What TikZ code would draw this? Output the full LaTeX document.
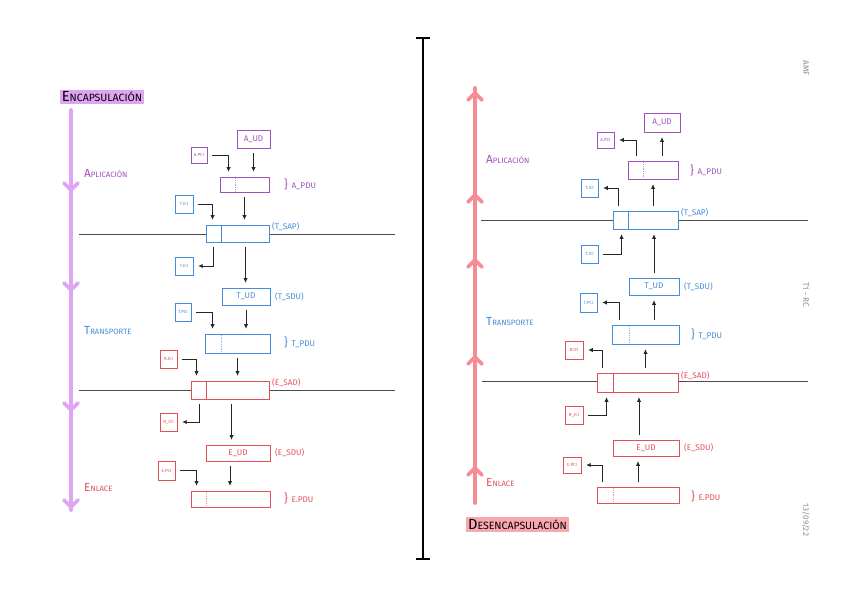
\documentclass[tikz,border=0pt]{standalone}
\usepackage{fontspec}
\setmainfont{Fira Sans}
\usetikzlibrary{arrows.meta,calc}

\definecolor{aplc}{RGB}{160,80,190}
\definecolor{trnc}{RGB}{70,140,220}
\definecolor{enlc}{RGB}{225,80,90}
\definecolor{encc}{RGB}{222,165,245}
\definecolor{desc}{RGB}{246,140,148}
\newcommand\upx{0.3mm}
\newcommand\lyr[2]{#1{\fontsize{6.6}{6.8}\selectfont #2}}
\newcommand\brc{{\fontsize{10}{10}\selectfont\}}\hspace{3pt}}

\begin{document}
\begin{tikzpicture}[x=0.3mm, y=-0.3mm,
                    pdubox/.style={draw, fill=white, line width=0.8pt, inner sep=0pt,
                                   font=\fontsize{7}{7}\selectfont},
                    ctlbox/.style={draw, fill=white, line width=0.7pt, inner sep=0pt,
                                   font=\fontsize{3.8}{4}\selectfont},
                    wh/.style 2 args={minimum width=#1*\upx, minimum height=#2*\upx},
                    apl/.style={draw=aplc, text=aplc}, trn/.style={draw=trnc, text=trnc},
                    enl/.style={draw=enlc, text=enlc},
                    arr/.style={-{Latex[length=1.4mm,width=1.3mm]}, line width=0.75pt, black!85,
                                shorten <=1.3mm, shorten >=1.4mm},
                    sidelbl/.style={anchor=west, inner sep=0pt, font=\fontsize{7}{7}\selectfont},
                    lyrlbl/.style={anchor=west, inner sep=0pt, font=\fontsize{10}{10}\selectfont},
                    boundary/.style={draw=black!70, line width=0.8pt},
                    flow/.style={line width=3.2pt, line cap=round, line join=round},
                    %% margin notes
                    note/.style={rotate=-90, text=black!45, font=\fontsize{7}{7}\selectfont}
                    ]
\useasboundingbox (0,0) rectangle (848,599);

% layer boundaries
\draw[boundary] (79,234) -- (395,234);
\draw[boundary] (79,390) -- (395,390);
\draw[boundary] (481,220) -- (808,220);
\draw[boundary] (482,381) -- (808,381);

% separator
\draw[line width=1.6pt] (423,38) -- (423,559);
\draw[line width=1.6pt] (416,38) -- (430,38);
\draw[line width=1.6pt] (416,559) -- (430,559);

%% ---------------- encapsulacion ----------------
\node[fill=encc, inner sep=1.8pt, font=\fontsize{12.5}{12.5}\selectfont] (enc) at (102,97)
      {E{\fontsize{9}{9}\selectfont NCAPSULACIÓN}};
\draw[flow, encc] (71,110) -- (71,510);
\foreach \y in {190,290,410,507}
  \draw[flow, encc] (64,\y-7) -- (71,\y) -- (78,\y-7);

\node[lyrlbl, aplc] (apl) at (84,174) {\lyr{A}{PLICACIÓN}};
\node[lyrlbl, trnc] (trn) at (84,331) {\lyr{T}{RANSPORTE}};
\node[lyrlbl, enlc] (enl) at (84,488) {\lyr{E}{NLACE}};

\node[pdubox, apl, wh={33}{18}] (aud)  at (253.5,139) {A\_UD};
\node[ctlbox, apl, wh={16}{16}] (apci) at (199,155) {A.PCI};
\node[pdubox, apl, wh={49}{15}] (apdu) at (244.5,184.5) {};
\node[ctlbox, trn, wh={18}{18}] (tici1) at (184,204) {T.ICI};
\node[pdubox, trn, wh={63}{17}] (tsap) at (237.5,233.5) {};
\node[ctlbox, trn, wh={18}{18}] (tici2) at (184,266) {T.ICI};
\node[pdubox, trn, wh={48}{17}] (tud)  at (246,296.5) {T\_UD};
\node[ctlbox, trn, wh={16}{18}] (tpci) at (183,312) {T.PCI};
\node[pdubox, trn, wh={65}{19}] (tpdu) at (237.5,343.5) {};
\node[ctlbox, enl, wh={17}{18}] (rici1) at (168.5,359) {R.ICI};
\node[pdubox, enl, wh={78}{18}] (esap) at (230,390) {};
\node[ctlbox, enl, wh={17}{18}] (rici2) at (168.5,422) {R\_ICI};
\node[pdubox, enl, wh={64}{16}] (eud)  at (238,453) {E\_UD};
\node[ctlbox, enl, wh={17}{19}] (epci) at (166.5,470.5) {E.PCI};
\node[pdubox, enl, wh={79}{16}] (epdu) at (230.5,499) {};

\draw[aplc!60, densely dotted, line width=0.5pt, shorten <=1.5pt, shorten >=1.5pt]
  ([xshift=16*\upx]apdu.north west) -- ([xshift=16*\upx]apdu.south west);
\draw[trnc, line width=0.8pt] ([xshift=16*\upx]tsap.north west) -- ([xshift=16*\upx]tsap.south west);
\draw[trnc!60, densely dotted, line width=0.5pt, shorten <=1.5pt, shorten >=1.5pt]
  ([xshift=17*\upx]tpdu.north west) -- ([xshift=17*\upx]tpdu.south west);
\draw[enlc, line width=0.8pt] ([xshift=16*\upx]esap.north west) -- ([xshift=16*\upx]esap.south west);
\draw[enlc!60, densely dotted, line width=0.5pt, shorten <=1.5pt, shorten >=1.5pt]
  ([xshift=16*\upx]epdu.north west) -- ([xshift=16*\upx]epdu.south west);

\node[sidelbl, aplc] (apdul) at (284,184) {\brc A\_PDU};
\node[sidelbl, trnc] (tsapl) at (272,227) {(T\_SAP)};
\node[sidelbl, trnc] (tsdul) at (275,297) {(T\_SDU)};
\node[sidelbl, trnc] (tpdul) at (284,342) {\brc T\_PDU};
\node[sidelbl, enlc] (esapl) at (272,383) {(E\_SAD)};
\node[sidelbl, enlc] (esdul) at (275,453) {(E\_SDU)};
\node[sidelbl, enlc] (epdul) at (284,498) {\brc E.PDU};

\draw[arr] (apci.east) -| ([xshift=9*\upx]apdu.north west);
\draw[arr] (aud.south) -- (aud.south |- apdu.north);
\draw[arr] (apdu.south) -- (apdu.south |- tsap.north);
\draw[arr] (tici1.east) -| ([xshift=7*\upx]tsap.north west);
\draw[arr] ([xshift=8*\upx]tsap.south west) |- (tici2.east);
\draw[arr] ([xshift=40*\upx]tsap.south west) -- ([xshift=40*\upx]tsap.south west |- tud.north);
\draw[arr] (tpci.east) -| ([xshift=8*\upx]tpdu.north west);
\draw[arr] (tud.south) -- (tud.south |- tpdu.north);
\draw[arr] (tpdu.south) -- (tpdu.south |- esap.north);
\draw[arr] (rici1.east) -| ([xshift=6*\upx]esap.north west);
\draw[arr] ([xshift=9*\upx]esap.south west) |- (rici2.east);
\draw[arr] ([xshift=41*\upx]esap.south west) -- ([xshift=41*\upx]esap.south west |- eud.north);
\draw[arr] (epci.east) -| ([xshift=6*\upx]epdu.north west);
\draw[arr] ([xshift=-8*\upx]eud.south) -- ([xshift=-8*\upx]eud.south |- epdu.north);

%% ---------------- desencapsulacion ----------------
\node[fill=desc!75, inner sep=1.8pt, font=\fontsize{12.5}{12.5}\selectfont] (des) at (517.5,524.5)
      {D{\fontsize{9}{9}\selectfont ESENCAPSULACIÓN}};
\draw[flow, desc] (475,503) -- (475,88);
\foreach \y in {93,195,260,357,468}
  \draw[flow, desc] (468,\y+7) -- (475,\y) -- (482,\y+7);

\node[lyrlbl, aplc] (rapl) at (486,160) {\lyr{A}{PLICACIÓN}};
\node[lyrlbl, trnc] (rtrn) at (486,322) {\lyr{T}{RANSPORTE}};
\node[lyrlbl, enlc] (renl) at (486,483) {\lyr{E}{NLACE}};

\node[pdubox, apl, wh={36}{19}] (raud)  at (662,122.5) {A\_UD};
\node[ctlbox, apl, wh={17}{16}] (rapci) at (605.5,140) {A.PCI};
\node[pdubox, apl, wh={50}{18}] (rapdu) at (653,170) {};
\node[ctlbox, trn, wh={17}{18}] (rtici1) at (589.5,188) {T.ICI};
\node[pdubox, trn, wh={65}{18}] (rtsap) at (645.5,220) {};
\node[ctlbox, trn, wh={17}{18}] (rtici2) at (589.5,254) {T.ICI};
\node[pdubox, trn, wh={50}{17}] (rtud)  at (654,286.5) {T\_UD};
\node[ctlbox, trn, wh={17}{19}] (rtpci) at (588.5,302.5) {T.PCI};
\node[pdubox, trn, wh={67}{19}] (rtpdu) at (645.5,334.5) {};
\node[ctlbox, enl, wh={18}{18}] (rrici1) at (574,350) {R.ICI};
\node[pdubox, enl, wh={81}{19}] (resap) at (637.5,382.5) {};
\node[ctlbox, enl, wh={18}{18}] (rrici2) at (574,415) {R\_ICI};
\node[pdubox, enl, wh={66}{16}] (reud)  at (646,448) {E\_UD};
\node[ctlbox, enl, wh={18}{16}] (repci) at (572,465) {E.PCI};
\node[pdubox, enl, wh={82}{16}] (repdu) at (638,495) {};

\draw[aplc!60, densely dotted, line width=0.5pt, shorten <=1.5pt, shorten >=1.5pt]
  ([xshift=16*\upx]rapdu.north west) -- ([xshift=16*\upx]rapdu.south west);
\draw[trnc, line width=0.8pt] ([xshift=16*\upx]rtsap.north west) -- ([xshift=16*\upx]rtsap.south west);
\draw[trnc!60, densely dotted, line width=0.5pt, shorten <=1.5pt, shorten >=1.5pt]
  ([xshift=18*\upx]rtpdu.north west) -- ([xshift=18*\upx]rtpdu.south west);
\draw[enlc, line width=0.8pt] ([xshift=17*\upx]resap.north west) -- ([xshift=17*\upx]resap.south west);
\draw[enlc!60, densely dotted, line width=0.5pt, shorten <=1.5pt, shorten >=1.5pt]
  ([xshift=17*\upx]repdu.north west) -- ([xshift=17*\upx]repdu.south west);

\node[sidelbl, aplc] (rapdul) at (690,170) {\brc A\_PDU};
\node[sidelbl, trnc] (rtsapl) at (681,213) {(T\_SAP)};
\node[sidelbl, trnc] (rtsdul) at (684,287) {(T\_SDU)};
\node[sidelbl, trnc] (rtpdul) at (691,334) {\brc T\_PDU};
\node[sidelbl, enlc] (resapl) at (681,376) {(E\_SAD)};
\node[sidelbl, enlc] (resdul) at (684,448) {(E\_SDU)};
\node[sidelbl, enlc] (repdul) at (691,496) {\brc E.PDU};

\draw[arr] ([xshift=9*\upx]rapdu.north west) |- (rapci.east);
\draw[arr] (raud.south |- rapdu.north) -- (raud.south);
\draw[arr] ([xshift=6*\upx]rtsap.north west) |- (rtici1.east);
\draw[arr] (rapdu.south |- rtsap.north) -- (rapdu.south);
\draw[arr] (rtici2.east) -| ([xshift=9*\upx]rtsap.south west);
\draw[arr] (rtud.north) -- (rtud.north |- rtsap.south);
\draw[arr] ([xshift=8*\upx]rtpdu.north west) |- (rtpci.east);
\draw[arr] (rtud.south |- rtpdu.north) -- (rtud.south);
\draw[arr] ([xshift=6*\upx]resap.north west) |- (rrici1.east);
\draw[arr] (rtpdu.south |- resap.north) -- (rtpdu.south);
\draw[arr] (rrici2.east) -| ([xshift=10*\upx]resap.south west);
\draw[arr] ([xshift=-7*\upx]reud.north) -- ([xshift=-7*\upx]reud.north |- resap.south);
\draw[arr] ([xshift=6*\upx]repdu.north west) |- (repci.east);
\draw[arr] (repdu.north) -- (repdu.north |- reud.south);

% margin notes
\node[note] (amf)  at (806,68)  {AMF};
\node[note] (tema) at (806,295) {T1 - RC};
\node[note] (dia)  at (806,520) {13/09/22};
\end{tikzpicture}
\end{document}
